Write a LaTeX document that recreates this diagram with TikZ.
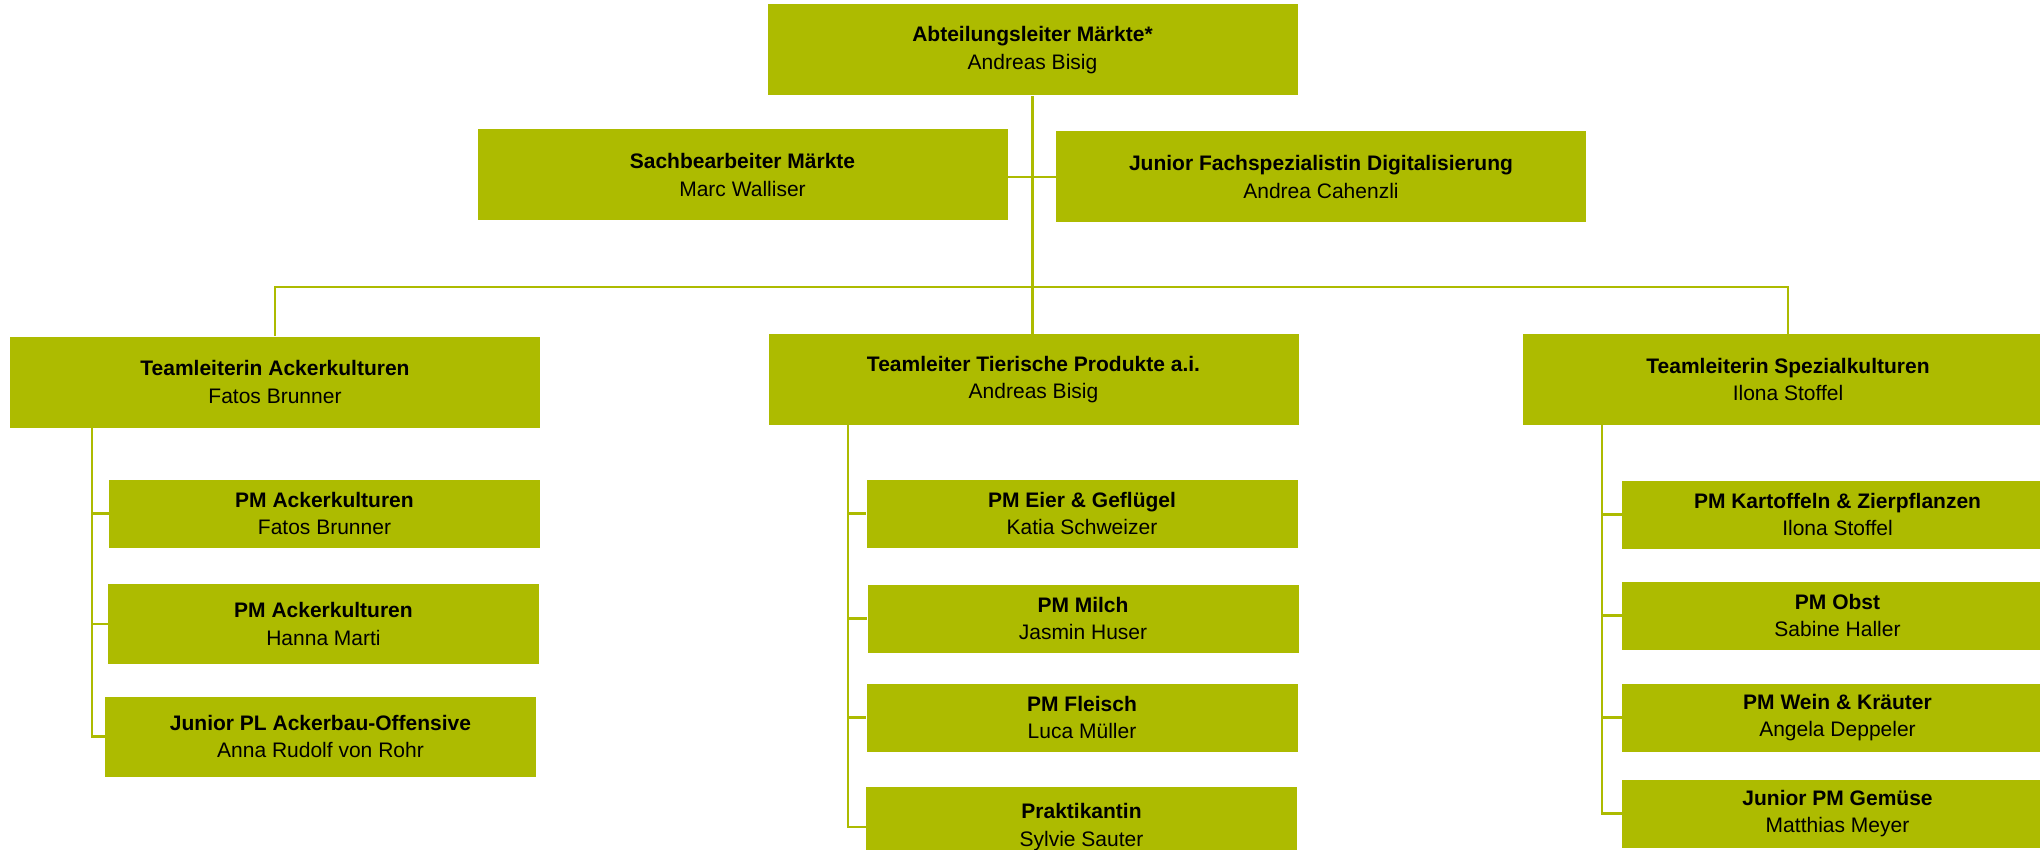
\documentclass[tikz,border=0pt]{standalone}
\usepackage{fontspec}
\setmainfont{Liberation Sans}
\definecolor{agrargruen}{RGB}{173,187,0}

\begin{document}
\begin{tikzpicture}[x=0.5pt,y=-0.5pt,
  box/.style={fill=agrargruen, align=center, inner sep=0pt,
    font=\fontsize{10.5}{13.8}\selectfont},
  boss/.style={box, minimum width=265pt, minimum height=45.5pt},
  unit/.style={box, minimum width=215.5pt, minimum height=34pt},
  tallunit/.style={unit, minimum height=40pt},
  link/.style={draw=agrargruen, line width=1.1pt}]
\useasboundingbox (0,0) rectangle (2040,850);
\clip (0,0) rectangle (2040,850);

% Leitung und Stab
\node [boss] (head) at (1032.5, 50) {\textbf{Abteilungsleiter Märkte*}\\Andreas Bisig};
\node [boss] (sach) at (742.5, 175) {\textbf{Sachbearbeiter Märkte}\\Marc Walliser};
\node [boss] (digi) at (1321, 177) {\textbf{Junior Fachspezialistin Digitalisierung}\\Andrea Cahenzli};

% Teams
\node [boss] (acker) at (275, 382) {\textbf{Teamleiterin Ackerkulturen}\\Fatos Brunner};
\node [boss] (tier) at (1033.5, 379.5) {\textbf{Teamleiter Tierische Produkte a.i.}\\Andreas Bisig};
\node [boss] (spez) at (1788, 379.5) {\textbf{Teamleiterin Spezialkulturen}\\Ilona Stoffel};

% Ackerkulturen
\node [unit] (acker1) at (324.5, 513.5) {\textbf{PM Ackerkulturen}\\Fatos Brunner};
\node [tallunit] (acker2) at (323.5, 624) {\textbf{PM Ackerkulturen}\\Hanna Marti};
\node [tallunit] (acker3) at (320.5, 736.5) {\textbf{Junior PL Ackerbau-Offensive}\\Anna Rudolf von Rohr};

% Tierische Produkte
\node [unit] (tier1) at (1082, 513.5) {\textbf{PM Eier \& Geflügel}\\Katia Schweizer};
\node [unit] (tier2) at (1083, 618.5) {\textbf{PM Milch}\\Jasmin Huser};
\node [unit] (tier3) at (1082, 717.5) {\textbf{PM Fleisch}\\Luca Müller};
\node [tallunit] (tier4) at (1081.5, 827) {\textbf{Praktikantin}\\Sylvie Sauter};

% Spezialkulturen
\node [unit] (spez1) at (1837.5, 514.5) {\textbf{PM Kartoffeln \& Zierpflanzen}\\Ilona Stoffel};
\node [unit] (spez2) at (1837.5, 615.5) {\textbf{PM Obst}\\Sabine Haller};
\node [unit] (spez3) at (1837.5, 717.5) {\textbf{PM Wein \& Kräuter}\\Angela Deppeler};
\node [unit] (spez4) at (1837.5, 813.5) {\textbf{Junior PM Gemüse}\\Matthias Meyer};

\coordinate (bus) at (1032, 287);
\coordinate (ackerStem) at (92, 427);
\coordinate (tierStem) at (848, 424);
\coordinate (spezStem) at (1602, 424);

\draw [link] (head.south) -- (head.south |- tier.north);
\draw [link] (sach.east |- digi.west) -- (digi.west);
\draw [link] (acker.north) |- (bus) -| (spez.north);

\draw [link] (ackerStem) |- (acker3.west);
\draw [link] (tierStem) |- (tier4.west);
\draw [link] (spezStem) |- (spez4.west);
\foreach \c in {acker1, acker2}
  \draw [link] (ackerStem |- \c.west) -- (\c.west);
\foreach \c in {tier1, tier2, tier3}
  \draw [link] (tierStem |- \c.west) -- (\c.west);
\foreach \c in {spez1, spez2, spez3}
  \draw [link] (spezStem |- \c.west) -- (\c.west);
\end{tikzpicture}
\end{document}
